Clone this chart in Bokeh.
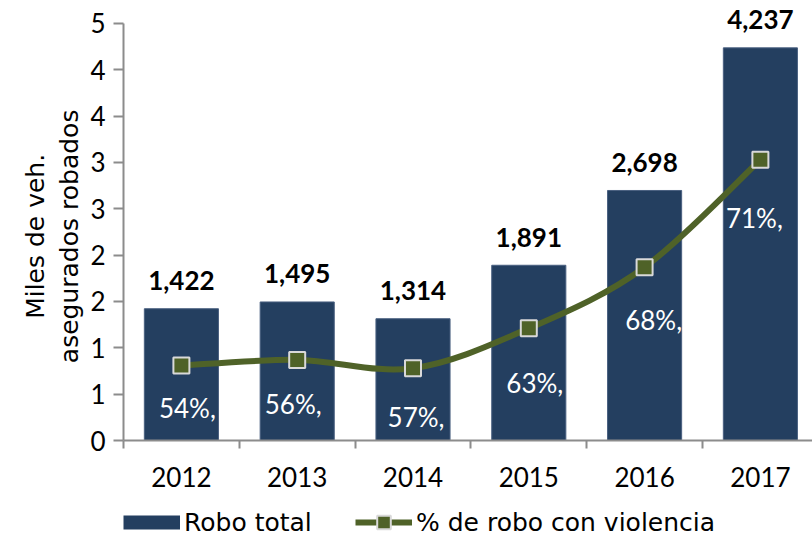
from bokeh.plotting import figure
from bokeh.layouts import column
from bokeh.models import (ColumnDataSource, FixedTicker, LabelSet, Legend,
                          LegendItem, Range1d)
from bokeh.core.properties import value
from bokeh.embed import file_html
from bokeh.resources import INLINE

# ---------------- data ----------------
years = ["2012", "2013", "2014", "2015", "2016", "2017"]
robo_total = [1.422, 1.495, 1.314, 1.891, 2.698, 4.237]        # miles de vehículos
robo_violencia = [0.81, 0.87, 0.78, 1.21, 1.87, 3.03]          # miles (línea)
pct_violencia = [54, 56, 57, 63, 68, 71]                        # % con violencia
y_ticks = [0, 0.5, 1, 1.5, 2, 2.5, 3, 3.5, 4, 4.5]
y_tick_labels = ["0", "1", "1", "2", "2", "3", "3", "4", "4", "5"]
series_names = ["Robo total", "% de robo con violencia"]
y_title_lines = ["Miles de veh.", "asegurados robados"]

# ---------------- styling ----------------
BAR = "#243F60"
OLIVE = "#4F6228"
AXIS = "#8C8C8C"
NUM_FONT = "Lato"
TXT_FONT = "DejaVu Sans"
pct_dx = [6, -4, 3, 6, 9, -6]      # label offsets in px (manual placement)
pct_dy = [43, 44, 49, 55, 53, 58]
TITLE_PAD = "\u00a0" * 4           # nudges the rotated axis title downwards

xs = list(range(len(years)))
bar_src = ColumnDataSource(dict(
    x=xs, top=robo_total,
    lab=[f"{int(round(v * 1000)):,}" for v in robo_total]))
pt_src = ColumnDataSource(dict(
    x=xs, y=robo_violencia,
    lab=[f"{v}%," for v in pct_violencia],
    dx=pct_dx, dy=pct_dy))

# smooth (Excel-like) curve through the points as cubic Bezier segments
n = len(xs)
seg = dict(x0=[], y0=[], x1=[], y1=[], cx0=[], cy0=[], cx1=[], cy1=[])
for i in range(n - 1):
    a = max(i - 1, 0)
    d = min(i + 2, n - 1)
    seg["x0"].append(xs[i]); seg["y0"].append(robo_violencia[i])
    seg["x1"].append(xs[i + 1]); seg["y1"].append(robo_violencia[i + 1])
    seg["cx0"].append(xs[i] + (xs[i + 1] - xs[a]) / 6)
    seg["cy0"].append(robo_violencia[i] + (robo_violencia[i + 1] - robo_violencia[a]) / 6)
    seg["cx1"].append(xs[i + 1] - (xs[d] - xs[i]) / 6)
    seg["cy1"].append(robo_violencia[i + 1] - (robo_violencia[d] - robo_violencia[i]) / 6)
seg_src = ColumnDataSource(seg)

p = figure(width=812, height=503,
           x_range=Range1d(-0.5, 5.45), y_range=Range1d(0, 4.748),
           output_backend="svg", toolbar_location=None,
           min_border_left=123, min_border_right=0,
           min_border_top=0, min_border_bottom=63)
p.outline_line_color = None
p.grid.visible = False

bars = p.vbar(x="x", top="top", width=0.64, source=bar_src,
              fill_color=BAR, line_color="#4A6080", line_width=1)
curve = p.bezier(x0="x0", y0="y0", x1="x1", y1="y1",
                 cx0="cx0", cy0="cy0", cx1="cx1", cy1="cy1",
                 source=seg_src, line_color=OLIVE, line_width=6, line_cap="round")
marks = p.scatter(x="x", y="y", source=pt_src, marker="square", size=16,
                  fill_color=OLIVE, line_color="#D9D9D9", line_width=2)

p.text(x="x", y="y", text="lab", source=pt_src, x_offset="dx", y_offset="dy",
       text_align="center", text_baseline="middle", text_color="white",
       text_font=value(NUM_FONT), text_font_size="26px")

vals = LabelSet(x="x", y="top", text="lab", source=bar_src, y_offset=28,
                text_align="center", text_baseline="middle",
                text_font=value(NUM_FONT), text_font_size=value("26px"),
                text_font_style="bold", text_color="black")
p.add_layout(vals)

# y axis
ya = p.yaxis[0]
ya.ticker = FixedTicker(ticks=y_ticks)
ya.bounds = (0, 4.5)
ya.major_label_overrides = {t: l for t, l in zip(y_ticks, y_tick_labels)}
ya.major_tick_out = 10
ya.major_tick_in = 0
ya.major_label_standoff = 8
ya.axis_label = "\n".join(line + TITLE_PAD for line in y_title_lines)
ya.axis_label_text_font = TXT_FONT
ya.axis_label_text_font_size = "25px"
ya.axis_label_text_font_style = "normal"
ya.axis_label_text_color = "black"
ya.axis_label_standoff = 3

# x axis
xa = p.xaxis[0]
xa.ticker = FixedTicker(ticks=xs, minor_ticks=[i - 0.5 for i in range(n + 1)])
xa.major_label_overrides = {i: y for i, y in enumerate(years)}
xa.major_tick_out = 0
xa.major_tick_in = 0
xa.minor_tick_out = 8
xa.minor_tick_in = 0
xa.major_label_standoff = 18

for ax in (xa, ya):
    ax.axis_line_color = AXIS
    ax.axis_line_width = 2
    ax.major_tick_line_color = AXIS
    ax.major_tick_line_width = 2
    ax.minor_tick_line_color = AXIS if ax is xa else None
    ax.minor_tick_line_width = 2
    ax.major_label_text_font = NUM_FONT
    ax.major_label_text_font_size = "26px"
    ax.major_label_text_color = "black"

# ---------------- legend strip ----------------
NAN = float("nan")
lf = figure(width=812, height=36, x_range=Range1d(0, 1), y_range=Range1d(0, 1),
            x_axis_location=None, y_axis_location=None,
            output_backend="svg", toolbar_location=None, min_border=0)
lf.outline_line_color = None
lf.grid.visible = False
k_bar = lf.line(x=[NAN], y=[NAN], line_color=BAR, line_width=14)
k_line = lf.line(x=[NAN], y=[NAN], line_color=OLIVE, line_width=6)
k_mark = lf.scatter(x=[NAN], y=[NAN], marker="square", fill_color=OLIVE,
                    line_color="#D9D9D9", line_width=2)
leg = Legend(items=[LegendItem(label=series_names[0], renderers=[k_bar]),
                    LegendItem(label=series_names[1], renderers=[k_line, k_mark])],
             orientation="horizontal", location=(0, 0),
             glyph_width=57, glyph_height=34, label_width=171, label_standoff=4,
             spacing=0, padding=0, margin=0,
             border_line_alpha=0, background_fill_alpha=0,
             label_text_font=TXT_FONT, label_text_font_size="25px",
             label_text_color="black")
lf.add_layout(leg)

layout = column(p, lf, spacing=0)
open("out.html", "w").write(file_html(layout, INLINE))
